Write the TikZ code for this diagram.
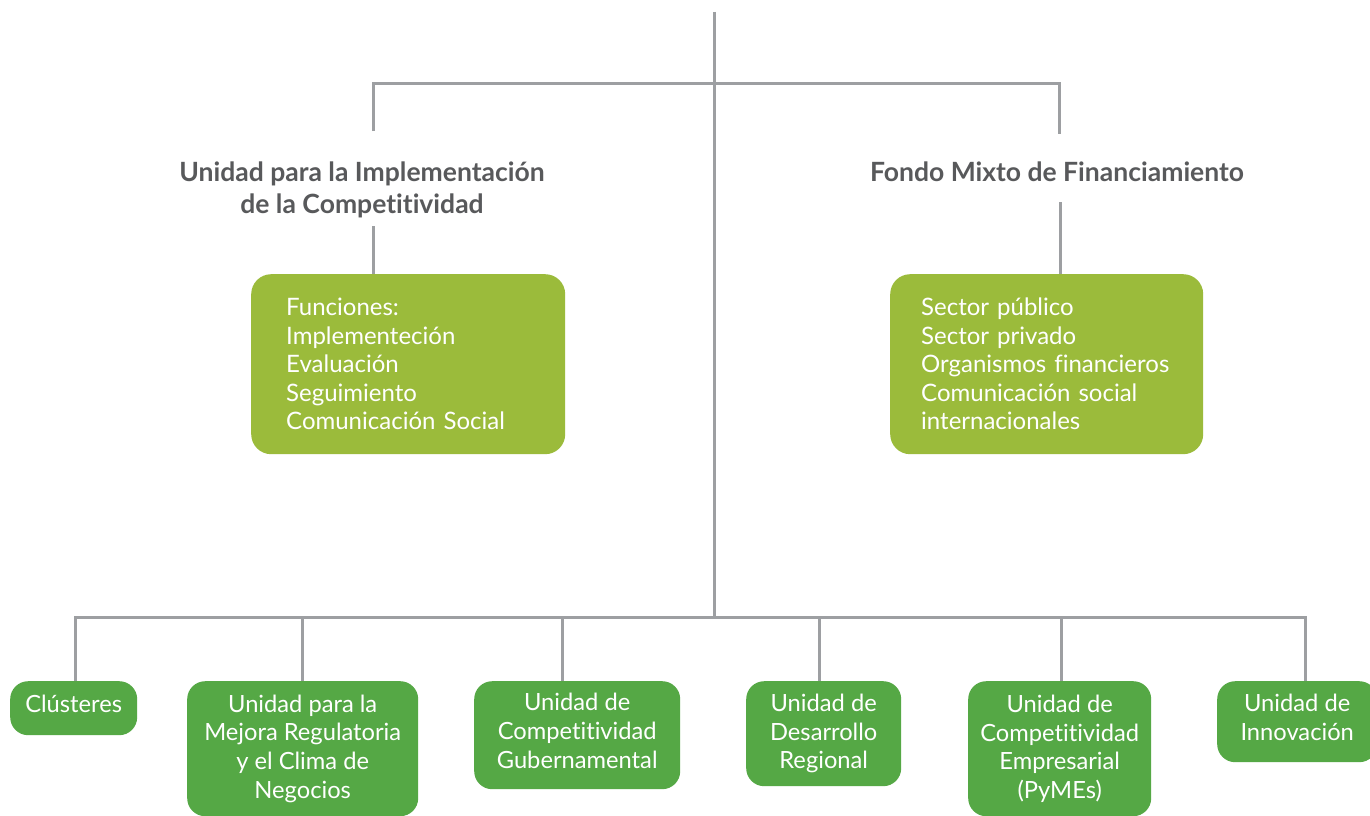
\documentclass[tikz,border=0pt]{standalone}
\usepackage{fontspec}
\setmainfont{Lato}[Ligatures=NoCommon]
\definecolor{lg}{HTML}{9BBB3B}
\definecolor{dg}{HTML}{55A845}
\definecolor{ln}{HTML}{9D9FA2}
\definecolor{hd}{HTML}{58595B}
\begin{document}
\begin{tikzpicture}[x=1pt,y=-1pt,
 conn/.style={draw=ln,line width=3pt},
 lbox/.style={fill=lg,rounded corners=20pt,text=white,font=\fontsize{24}{28.5}\selectfont,align=left,anchor=north west,inner sep=0pt},
 dbox/.style={fill=dg,rounded corners=18pt,text=white,font=\fontsize{23.7}{28.7}\selectfont,align=center,anchor=north west,inner sep=0pt},
 flat/.style={text depth=9pt},
 head/.style={text=hd,font=\bfseries\fontsize{26.5}{32}\selectfont,align=center,inner sep=0pt}]
\useasboundingbox (0,0) rectangle (1370,816);
\fill[white] (0,0) rectangle (1370,816);

% headings
\node[head] (hl) at (362,190) {Unidad para la Implementación\\de la Competitividad};
\node[head] (hr) at (1057,172) {Fondo Mixto de Financiamiento};

% light boxes
\node[lbox,text width=244pt,inner xsep=35pt,minimum height=180pt] (f1) at (251,274)
 {Funciones:\\Implementeción\\Evaluación\\Seguimiento\\Comunicación Social};
\node[lbox,text width=251pt,inner xsep=31pt,minimum height=180pt] (f2) at (890,274)
 {Sector público\\Sector privado\\Organismos financieros\\Comunicación social\\internacionales};

% dark boxes
\node[dbox,flat,minimum width=127pt,minimum height=54pt] (b1) at (10,681) {Clústeres};
\node[dbox,minimum width=231pt,minimum height=135pt] (b2) at (187,681) {Unidad para la\\Mejora Regulatoria\\y el Clima de\\Negocios};
\node[dbox,flat,minimum width=206pt,minimum height=108pt] (b3) at (474,681) {Unidad de\\Competitividad\\Gubernamental};
\node[dbox,minimum width=155pt,minimum height=105pt] (b4) at (746,681) {Unidad de\\Desarrollo\\Regional};
\node[dbox,minimum width=183pt,minimum height=135pt] (b5) at (968,681) {Unidad de\\Competitividad\\Empresarial\\(PyMEs)};
\node[dbox,flat,minimum width=160pt,minimum height=81pt] (b6) at (1217,681) {Unidad de\\Innovación};

% connectors
\coordinate (t0) at (714,12);
\coordinate (tb) at (714,617);
\coordinate (cl) at (373,131);
\coordinate (cr) at (1059,134);
\draw[conn] (t0) -- (tb);
\draw[conn] (cl) |- (cr |- 0,83) -- (cr);
\draw[conn] ([xshift=-35pt]f1.north) -- ++(0,-48);
\draw[conn] ([xshift=13.5pt]f2.north) -- ++(0,-72);
\draw[conn] ([xshift=1.5pt]b1.north) -- ++(0,-64) -| ([xshift=8.5pt]b6.north);
\draw[conn] ([xshift=-0.5pt]b2.north) -- ++(0,-64);
\draw[conn] ([xshift=-15pt]b3.north) -- ++(0,-64);
\draw[conn] ([xshift=-4.5pt]b4.north) -- ++(0,-64);
\draw[conn] ([xshift=1.5pt]b5.north) -- ++(0,-64);
\end{tikzpicture}
\end{document}
